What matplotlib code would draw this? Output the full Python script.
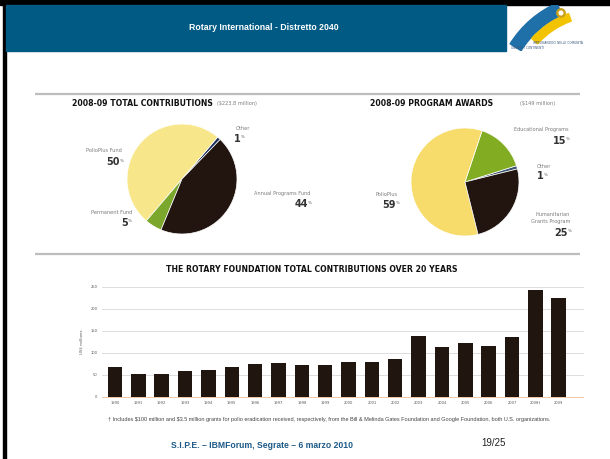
import matplotlib
matplotlib.use("Agg")
import matplotlib.pyplot as plt
from matplotlib.patches import Rectangle, Wedge, Circle
import numpy as np

# ---- data -------------------------------------------------------------
contrib_labels = ["Other", "PolioPlus Fund", "Permanent Fund", "Annual Programs Fund"]
contrib_share = [1, 50, 5, 44]
contrib_colors = ["#1c2f5c", "#f8e78a", "#7ba82c", "#221510"]

awards_labels = ["Other", "Educational Programs", "PolioPlus", "Humanitarian\nGrants Program"]
awards_share = [1, 15, 59, 25]
awards_colors = ["#3c5474", "#82ac22", "#f7dc6c", "#221510"]

years = ["1990", "1991", "1992", "1993", "1994", "1995", "1996", "1997", "1998", "1999",
         "2000", "2001", "2002", "2003", "2004", "2005", "2006", "2007", "2008\u2020", "2009"]
totals = [69, 52, 52, 58, 60, 67, 74, 76, 73, 73,
          80, 80, 85, 138, 113, 122, 115, 135, 241, 224]
yticks = [0, 50, 100, 150, 200, 250]

W, H = 610, 459
fig = plt.figure(figsize=(W / 100, H / 100), dpi=100)

# page overlay in pixel coordinates
bg = fig.add_axes([0, 0, 1, 1])
bg.set_xlim(0, W)
bg.set_ylim(H, 0)
bg.axis("off")

BLUE = "#005a84"
bg.add_patch(Rectangle((0, 0), W, 5, color="black"))
bg.add_patch(Rectangle((2.5, 0), 3.5, H, color="black"))
bg.add_patch(Rectangle((6, 5), 499.5, 45.5, color=BLUE))
bg.text(264, 27.5, "Rotary International - Distretto 2040", color="white",
        fontsize=6.3, fontweight="bold", family="Liberation Sans", ha="center", va="center")

# logo (rough)
clip = Rectangle((505.5, 5), 104.5, 45.5, transform=bg.transData)
for r, w, t1, t2, c in [(106, 13, 212, 246, "#1f6fa8"), (92, 8, 222, 250, "#f2c300")]:
    wd = Wedge((600, 100), r, t1, t2, width=w, color=c)
    bg.add_patch(wd)
    wd.set_clip_path(clip)
bg.add_patch(Circle((561, 13), 4.2, color="#c9a21a"))
bg.add_patch(Circle((561, 13), 1.8, color="white"))
bg.text(533, 43, "IMPEGNANDOCI NELLE COMUNITÀ", fontsize=2.2, color="#3c5a80", va="center")
bg.text(511, 48, "UNIAMO I CONTINENTI", fontsize=2.2, color="#3c5a80", va="center")

# separator rules
for y in (94.3, 254.3):
    bg.plot([35, 580], [y, y], color="#bdbdbd", lw=1.6, solid_capstyle="butt")

# footer
bg.text(262, 445.5, "S.I.P.E. \u2013 IBMForum, Segrate \u2013 6 marzo 2010", color="#1d5a88",
        fontsize=6.2, fontweight="bold", family="Liberation Sans", ha="center", va="center")
bg.text(493, 442.5, "19/25", color="#222222", fontsize=7, family="Liberation Sans",
        ha="center", va="center")

TITLE = dict(fontsize=5.6, fontweight="bold", family="DejaVu Sans", color="#111111", va="center")
GREY = dict(fontsize=3.6, color="#7a7a7a", family="DejaVu Sans", va="center")


def pct(x, y, val):
    # big number with small superscript percent sign
    bg.text(x - 4, y, str(val), fontsize=7, color="#333333", fontweight="bold",
            ha="right", va="center")
    bg.text(x, y - 1.5, "%", fontsize=3, color="#555555", ha="right", va="center")


# ---- pie 1 --------------------------------------------------------------
bg.text(72, 103, "2008-09 TOTAL CONTRIBUTIONS", **TITLE)
bg.text(217, 103.5, "(\\$223.8 million)", **GREY)

ax1 = fig.add_axes([127 / W, 1 - 234 / H, 110 / W, 110 / H])
ax1.pie(contrib_share, colors=contrib_colors, startangle=46, counterclock=True,
        wedgeprops=dict(edgecolor="white", linewidth=0.5))
ax1.set_xlim(-1, 1)
ax1.set_ylim(-1, 1)

bg.text(236, 129, contrib_labels[0], ha="left", **GREY)
pct(236 + 9, 139, contrib_share[0])
bg.text(122, 151, contrib_labels[1], ha="right", **GREY)
pct(124, 162, contrib_share[1])
bg.text(132, 213, contrib_labels[2], ha="right", **GREY)
pct(132, 223, contrib_share[2])
bg.text(310, 193, contrib_labels[3], ha="right", **GREY)
pct(312, 204, contrib_share[3])

# ---- pie 2 --------------------------------------------------------------
bg.text(370, 103, "2008-09 PROGRAM AWARDS", **TITLE)
bg.text(520, 103.5, "(\\$149 million)", **GREY)

ax2 = fig.add_axes([411 / W, 1 - 236 / H, 108 / W, 108 / H])
ax2.pie(awards_share, colors=awards_colors, startangle=14, counterclock=True,
        wedgeprops=dict(edgecolor="white", linewidth=0.5))
ax2.set_xlim(-1, 1)
ax2.set_ylim(-1, 1)

bg.text(537, 166, awards_labels[0], ha="left", **GREY)
pct(548, 176, awards_share[0])
bg.text(568, 130, awards_labels[1], ha="right", **GREY)
pct(570, 141, awards_share[1])
bg.text(398, 195, awards_labels[2], ha="right", **GREY)
pct(400, 205, awards_share[2])
bg.text(570, 218, awards_labels[3], ha="right", linespacing=1.3, **GREY)
pct(572, 233, awards_share[3])

# ---- bar chart ----------------------------------------------------------
bg.text(312, 270, "THE ROTARY FOUNDATION TOTAL CONTRIBUTIONS OVER 20 YEARS",
        ha="center", **TITLE)

ax3 = fig.add_axes([101.7 / W, (H - 397) / H, 481.3 / W, 110.5 / H])
x = np.arange(len(years))
ax3.bar(x, totals, width=0.62, color="#211510", zorder=3)
ax3.set_xlim(-0.57, 20.04)
ax3.set_ylim(0, 250)
for v in yticks:
    ax3.axhline(v, color="#f0c8a8" if v == 0 else "#dcdcdc", lw=0.7, zorder=1, clip_on=False)
for s in ax3.spines.values():
    s.set_visible(False)
ax3.set_xticks(x)
ax3.set_xticklabels(years, fontsize=2.6, color="#555555")
ax3.set_yticks(yticks)
ax3.set_yticklabels([str(v) for v in yticks], fontsize=2.6, color="#555555")
ax3.tick_params(length=0, pad=3)
ax3.set_ylabel("US\\$ millions", fontsize=2.8, color="#555555", labelpad=5)
ax3.patch.set_alpha(0)

bg.text(108, 419.5,
        "\u2020 Includes \\$100 million and \\$3.5 million grants for polio eradication received, "
        "respectively, from the Bill & Melinda Gates Foundation and Google Foundation, both U.S. organizations.",
        fontsize=4.0, color="#444444", va="center", family="Liberation Sans")

fig.savefig("out.png", dpi=100)
